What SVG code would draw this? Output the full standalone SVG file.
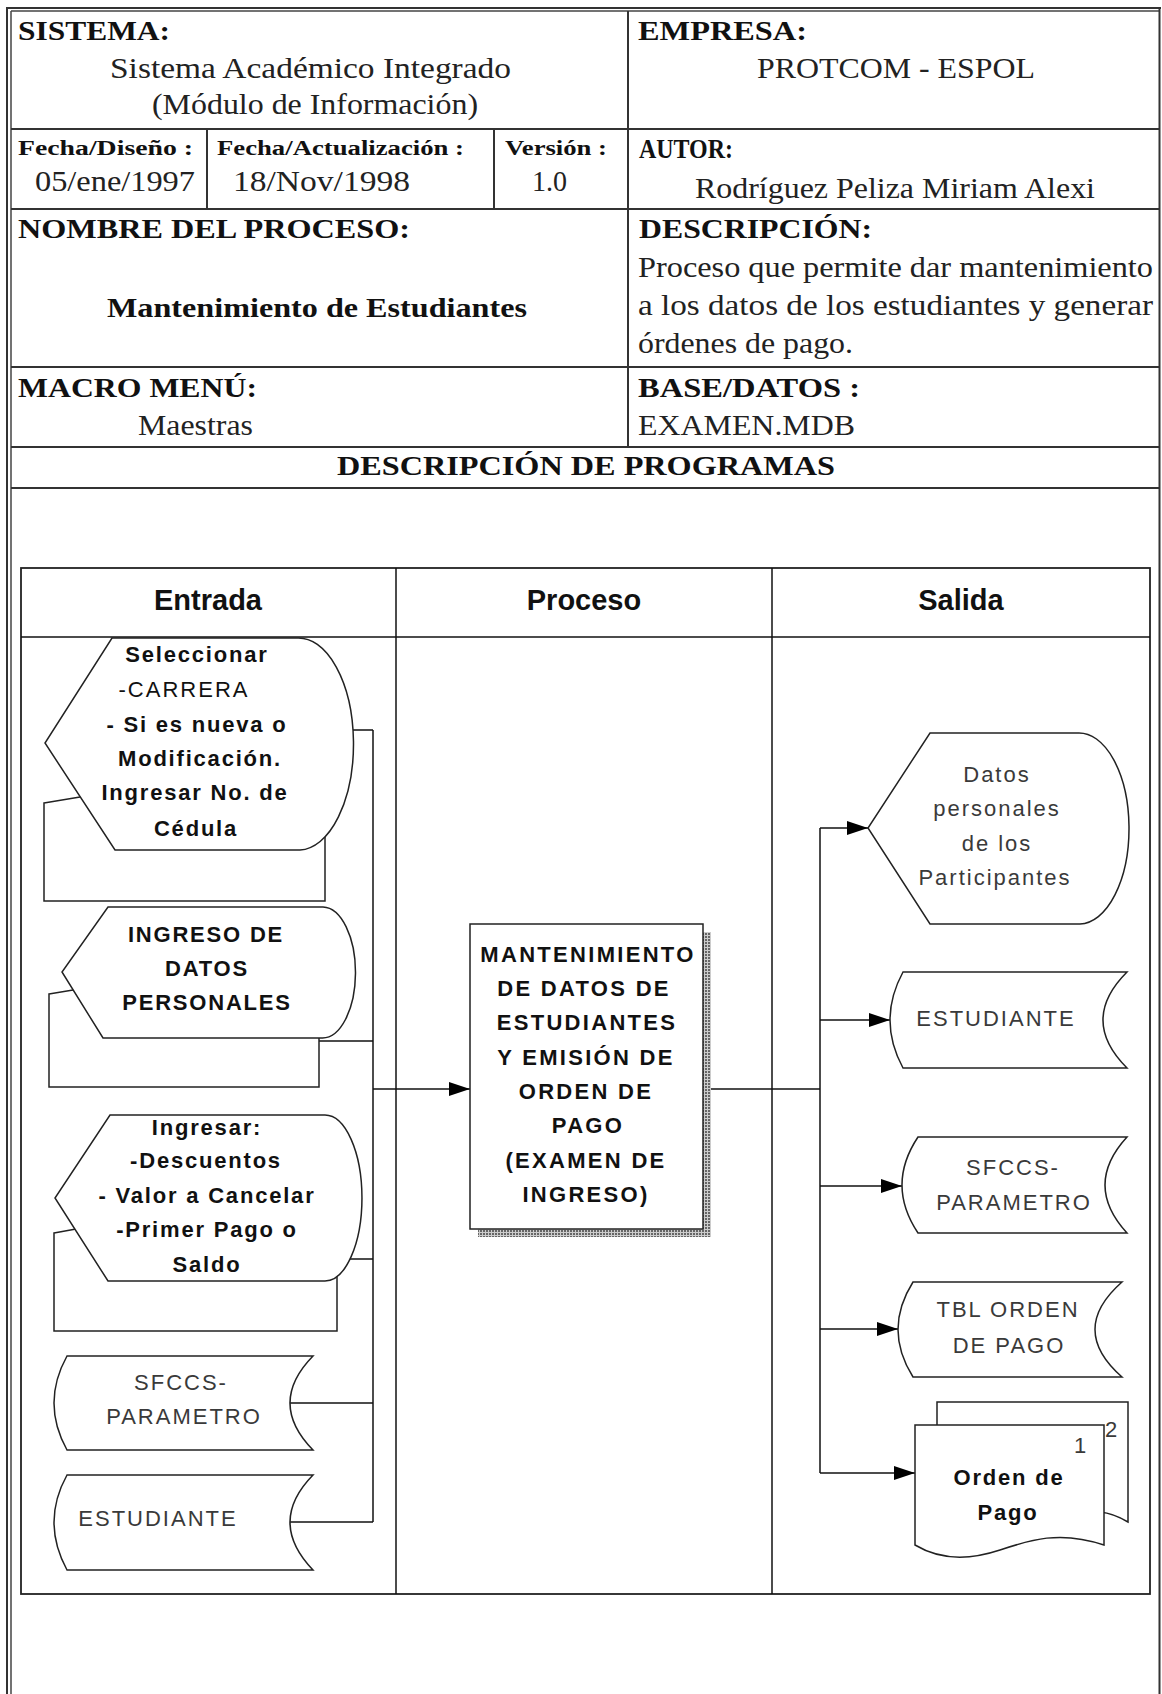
<svg xmlns="http://www.w3.org/2000/svg" width="1162" height="1694" viewBox="0 0 1162 1694">
<style>
.frame{stroke:#333;stroke-width:2;fill:none}
.thin{stroke:#444;stroke-width:1.5;fill:none}
.hb{font-family:"Liberation Serif","Times New Roman",serif;font-weight:bold;font-size:27px;fill:#111}
.hr{font-family:"Liberation Serif","Times New Roman",serif;font-size:30px;fill:#222}
.hs{font-family:"Liberation Serif","Times New Roman",serif;font-weight:bold;font-size:20px;fill:#111}
.lane{font-family:"Liberation Sans",Arial,sans-serif;font-weight:bold;font-size:29px;fill:#111;text-anchor:middle}
.nb{font-family:"Liberation Sans",Arial,sans-serif;font-weight:bold;font-size:22px;letter-spacing:1.8px;fill:#111;text-anchor:middle}
.nr{font-family:"Liberation Sans",Arial,sans-serif;font-size:22px;letter-spacing:2px;fill:#3a3a3a;text-anchor:middle}
.pb{font-family:"Liberation Sans",Arial,sans-serif;font-weight:bold;font-size:22px;letter-spacing:2.3px;fill:#111;text-anchor:middle}
.shape{fill:#fff;stroke:#222;stroke-width:1.5}
.conn{stroke:#111;stroke-width:1.5;fill:none}
</style>
<defs>
<marker id="ah" markerUnits="userSpaceOnUse" markerWidth="22" markerHeight="14" refX="21" refY="7" orient="auto">
<path d="M0,0 L21,7 L0,14 Z" fill="#000"/>
</marker>
<pattern id="dots" width="3" height="3" patternUnits="userSpaceOnUse">
<rect width="3" height="3" fill="#ccc"/>
<rect x="0" y="0" width="2" height="2" fill="#666"/>
</pattern>
</defs>
<rect width="1162" height="1694" fill="#fff"/>

<g id="header-table">
<line class="frame" x1="7" y1="7" x2="7" y2="1694"/>
<line class="thin" x1="11" y1="11" x2="11" y2="1694"/>
<line class="frame" x1="7" y1="8" x2="1161" y2="8"/>
<line class="thin" x1="11" y1="11" x2="1159" y2="11"/>
<line class="frame" x1="1159.5" y1="8" x2="1159.5" y2="1694"/>
<line class="frame" x1="11" y1="129" x2="1160" y2="129"/>
<line class="frame" x1="11" y1="209" x2="1160" y2="209"/>
<line class="frame" x1="11" y1="367" x2="1160" y2="367"/>
<line class="frame" x1="11" y1="447" x2="1160" y2="447"/>
<line class="frame" x1="11" y1="488" x2="1160" y2="488"/>
<line class="frame" x1="628" y1="11" x2="628" y2="447"/>
<line class="frame" x1="207" y1="129" x2="207" y2="209"/>
<line class="frame" x1="494" y1="129" x2="494" y2="209"/>

<text class="hb" x="18" y="40" textLength="152" lengthAdjust="spacingAndGlyphs">SISTEMA:</text>
<text class="hr" x="110" y="78" textLength="401" lengthAdjust="spacingAndGlyphs">Sistema Académico Integrado</text>
<text class="hr" x="152" y="114" textLength="326" lengthAdjust="spacingAndGlyphs">(Módulo de Información)</text>
<text class="hb" x="638" y="40" textLength="169" lengthAdjust="spacingAndGlyphs">EMPRESA:</text>
<text class="hr" x="757" y="78" textLength="278" lengthAdjust="spacingAndGlyphs">PROTCOM - ESPOL</text>
<text class="hs" x="18" y="155" textLength="175" lengthAdjust="spacingAndGlyphs">Fecha/Diseño :</text>
<text class="hs" x="217" y="155" textLength="247" lengthAdjust="spacingAndGlyphs">Fecha/Actualización :</text>
<text class="hs" x="505" y="155" textLength="102" lengthAdjust="spacingAndGlyphs">Versión :</text>
<text class="hb" x="639" y="158" textLength="94" lengthAdjust="spacingAndGlyphs">AUTOR:</text>
<text class="hr" x="35" y="191" textLength="160" lengthAdjust="spacingAndGlyphs">05/ene/1997</text>
<text class="hr" x="233" y="191" textLength="177" lengthAdjust="spacingAndGlyphs">18/Nov/1998</text>
<text class="hr" x="532" y="191" textLength="35" lengthAdjust="spacingAndGlyphs">1.0</text>
<text class="hr" x="695" y="198" textLength="400" lengthAdjust="spacingAndGlyphs">Rodríguez Peliza Miriam Alexi</text>
<text class="hb" x="18" y="238" textLength="392" lengthAdjust="spacingAndGlyphs">NOMBRE DEL PROCESO:</text>
<text class="hb" x="639" y="238" textLength="233" lengthAdjust="spacingAndGlyphs">DESCRIPCIÓN:</text>
<text class="hr" x="638" y="277" textLength="515" lengthAdjust="spacingAndGlyphs">Proceso que permite dar mantenimiento</text>
<text class="hr" x="638" y="315" textLength="515" lengthAdjust="spacingAndGlyphs">a los datos de los estudiantes y generar</text>
<text class="hr" x="638" y="353" textLength="215" lengthAdjust="spacingAndGlyphs">órdenes de pago.</text>
<text class="hb" x="107" y="317" textLength="420" lengthAdjust="spacingAndGlyphs">Mantenimiento de Estudiantes</text>
<text class="hb" x="18" y="397" textLength="239" lengthAdjust="spacingAndGlyphs">MACRO MENÚ:</text>
<text class="hr" x="138" y="435" textLength="115" lengthAdjust="spacingAndGlyphs">Maestras</text>
<text class="hb" x="638" y="397" textLength="222" lengthAdjust="spacingAndGlyphs">BASE/DATOS :</text>
<text class="hr" x="638" y="435" textLength="217" lengthAdjust="spacingAndGlyphs">EXAMEN.MDB</text>
<text class="hb" x="337" y="475" textLength="498" lengthAdjust="spacingAndGlyphs">DESCRIPCIÓN DE PROGRAMAS</text>
</g>

<g id="swimlanes">
<rect x="21" y="568" width="1129" height="1026" fill="none" stroke="#222" stroke-width="1.8"/>
<line class="conn" x1="21" y1="637" x2="1150" y2="637"/>
<line class="conn" x1="396" y1="568" x2="396" y2="1594"/>
<line class="conn" x1="772" y1="568" x2="772" y2="1594"/>
<text class="lane" x="208" y="610">Entrada</text>
<text class="lane" x="584" y="610">Proceso</text>
<text class="lane" x="961" y="610">Salida</text>
</g>

<g id="connectors">
<line class="conn" x1="350" y1="730" x2="373" y2="730"/>
<line class="conn" x1="373" y1="730" x2="373" y2="1522"/>
<line class="conn" x1="319" y1="1041" x2="373" y2="1041"/>
<line class="conn" x1="350" y1="1259" x2="373" y2="1259"/>
<line class="conn" x1="290" y1="1403" x2="373" y2="1403"/>
<line class="conn" x1="290" y1="1522" x2="373" y2="1522"/>
<line class="conn" x1="373" y1="1089" x2="470" y2="1089" marker-end="url(#ah)"/>
<line class="conn" x1="703" y1="1089" x2="820" y2="1089"/>
<line class="conn" x1="820" y1="828" x2="820" y2="1473"/>
<line class="conn" x1="820" y1="828" x2="868" y2="828" marker-end="url(#ah)"/>
<line class="conn" x1="820" y1="1020" x2="890" y2="1020" marker-end="url(#ah)"/>
<line class="conn" x1="820" y1="1186" x2="902" y2="1186" marker-end="url(#ah)"/>
<line class="conn" x1="820" y1="1329" x2="898" y2="1329" marker-end="url(#ah)"/>
<line class="conn" x1="820" y1="1473" x2="915" y2="1473" marker-end="url(#ah)"/>
</g>

<g id="in-seleccionar">
<path class="shape" d="M44,803 L80,797 L325,797 L325,901 L44,901 Z"/>
<path class="shape" d="M112,638 L297,638 A55,106 0 0 1 300,850 L115,850 L45,743 Z"/>
<text class="nb" x="197" y="662">Seleccionar</text>
<text class="nr" x="184" y="697" style="fill:#111">-CARRERA</text>
<text class="nb" x="197" y="732">- Si es nueva o</text>
<text class="nb" x="200" y="766">Modificación.</text>
<text class="nb" x="195" y="800">Ingresar No. de</text>
<text class="nb" x="196" y="836">Cédula</text>
</g>

<g id="in-datos-personales">
<path class="shape" d="M49,994 L73,990 L319,990 L319,1087 L49,1087 Z"/>
<path class="shape" d="M108,907 L323,907 A33,65.5 0 0 1 322,1038 L103,1038 L62,972 Z"/>
<text class="nb" x="206" y="942">INGRESO DE</text>
<text class="nb" x="207" y="976">DATOS</text>
<text class="nb" x="207" y="1010">PERSONALES</text>
</g>

<g id="in-ingresar">
<path class="shape" d="M54,1233 L76,1229 L337,1229 L337,1331 L54,1331 Z"/>
<path class="shape" d="M110,1115 L325,1115 A37,83 0 0 1 325,1281 L108,1281 L55,1198 Z"/>
<text class="nb" x="207" y="1135">Ingresar:</text>
<text class="nb" x="206" y="1168">-Descuentos</text>
<text class="nb" x="207" y="1203">- Valor a Cancelar</text>
<text class="nb" x="207" y="1237">-Primer Pago o</text>
<text class="nb" x="207" y="1272">Saldo</text>
</g>

<g id="in-sfccs-parametro">
<path class="shape" d="M67,1356 L313,1356 Q267,1403 313,1450 L67,1450 Q41,1403 67,1356 Z"/>
<text class="nr" x="181" y="1390">SFCCS-</text>
<text class="nr" x="184" y="1424">PARAMETRO</text>
</g>

<g id="in-estudiante">
<path class="shape" d="M67,1475 L313,1475 Q267,1522 313,1570 L67,1570 Q41,1522 67,1475 Z"/>
<text class="nr" x="158" y="1526">ESTUDIANTE</text>
</g>

<g id="proceso">
<rect x="478" y="932" width="233" height="305" fill="url(#dots)"/>
<rect class="shape" x="470" y="924" width="233" height="305"/>
<text class="pb" x="588" y="962">MANTENIMIENTO</text>
<text class="pb" x="584" y="996">DE DATOS DE</text>
<text class="pb" x="587" y="1030">ESTUDIANTES</text>
<text class="pb" x="586" y="1065">Y EMISIÓN DE</text>
<text class="pb" x="586" y="1099">ORDEN DE</text>
<text class="pb" x="588" y="1133">PAGO</text>
<text class="pb" x="586" y="1168">(EXAMEN DE</text>
<text class="pb" x="586" y="1202">INGRESO)</text>
</g>

<g id="out-datos-personales">
<path class="shape" d="M930,733 L1078,733 A50,95.5 0 0 1 1080,924 L930,924 L868,828 Z"/>
<text class="nr" x="997" y="782">Datos</text>
<text class="nr" x="997" y="816">personales</text>
<text class="nr" x="997" y="851">de los</text>
<text class="nr" x="995" y="885">Participantes</text>
</g>

<g id="out-estudiante">
<path class="shape" d="M903,972 L1127,972 Q1079,1020 1127,1068 L903,1068 Q877,1020 903,972 Z"/>
<text class="nr" x="996" y="1026">ESTUDIANTE</text>
</g>

<g id="out-sfccs-parametro">
<path class="shape" d="M918,1137 L1127,1137 Q1083,1185 1127,1233 L918,1233 Q886,1185 918,1137 Z"/>
<text class="nr" x="1013" y="1175">SFCCS-</text>
<text class="nr" x="1014" y="1210">PARAMETRO</text>
</g>

<g id="out-tbl-orden-pago">
<path class="shape" d="M913,1282 L1122,1282 Q1068,1329.5 1122,1377 L913,1377 Q883,1329.5 913,1282 Z"/>
<text class="nr" x="1008" y="1317">TBL ORDEN</text>
<text class="nr" x="1009" y="1353">DE PAGO</text>
</g>

<g id="out-orden-de-pago">
<path class="shape" d="M937,1402 L1128,1402 L1128,1522 C1118,1516 1110,1513 1100,1512 L937,1512 Z"/>
<path class="shape" d="M915,1425 L1104,1425 L1104,1545 C1060,1530 1030,1540 1000,1550 C970,1560 940,1560 915,1545 Z"/>
<text class="nr" x="1111" y="1437" style="letter-spacing:0">2</text>
<text class="nr" x="1080" y="1453" style="letter-spacing:0">1</text>
<text class="nb" x="1009" y="1485">Orden de</text>
<text class="nb" x="1008" y="1520">Pago</text>
</g>
</svg>
